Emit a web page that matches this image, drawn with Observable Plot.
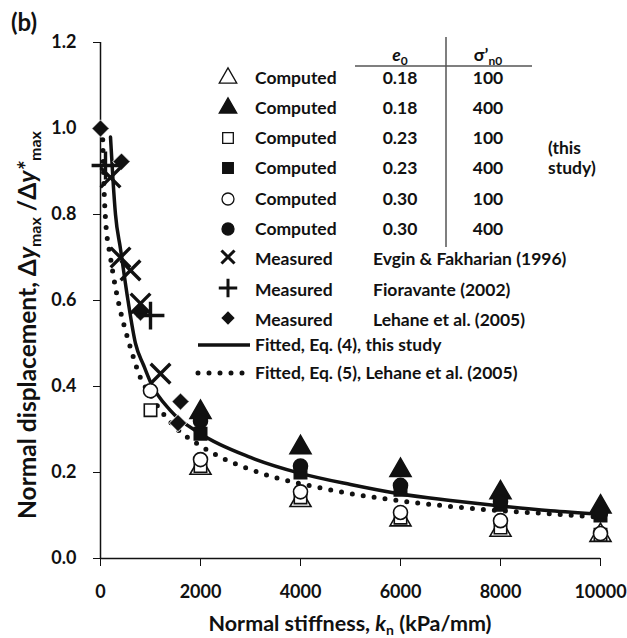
<!DOCTYPE html>
<html><head><meta charset="utf-8">
<script src="https://cdn.jsdelivr.net/npm/d3@7"></script>
<script src="https://cdn.jsdelivr.net/npm/@observablehq/plot@0.6"></script>
<style>
body{margin:0;background:#fff}
#chart svg{font-family:Lato,"Open Sans",sans-serif;font-weight:bold;overflow:visible}
</style>
</head><body><div id="chart"></div>
<script>
// ---- data ----
const knComputed = [1000, 2000, 4000, 6000, 8000, 10000];
const c018_100 = [null, 0.21, 0.135, 0.09, 0.066, 0.054];   // open triangle
const c018_400 = [null, 0.34, 0.258, 0.205, 0.153, 0.12];   // filled triangle
const c023_100 = [0.345, 0.215, 0.142, 0.095, 0.072, 0.055]; // open square
const c023_400 = [null, 0.29, 0.2, 0.16, 0.125, 0.1];        // filled square
const c030_100 = [0.39, 0.23, 0.155, 0.107, 0.088, 0.058];   // open circle
const c030_400 = [null, 0.32, 0.215, 0.17, 0.132, 0.106];    // filled circle

const evginKn = [200, 400, 600, 800, 1200];
const evginY  = [0.886, 0.70, 0.67, 0.593, 0.43];
const fioKn = [100, 1000];
const fioY  = [0.914, 0.565];
const lehaneKn = [0, 420, 800, 1550, 1600];
const lehaneY  = [1.0, 0.923, 0.572, 0.315, 0.365];

const fit4Kn = [200, 250, 300, 400, 550, 700, 860, 1000, 1400, 2000, 3000, 4000, 5000, 6000, 7000, 8000, 9000, 10000];
const fit4Y  = [0.98, 0.88, 0.80, 0.72, 0.60, 0.50, 0.45, 0.41, 0.344, 0.29, 0.235, 0.198, 0.172, 0.15, 0.135, 0.122, 0.111, 0.103];
const fit5Kn = [40, 60, 100, 200, 300, 400, 500, 600, 800, 1000, 1200, 1500, 2000, 2500, 3000, 3500, 4000, 5000, 6000, 7000, 8000, 9000, 10000];
const fit5Y  = [1.0, 0.9, 0.79, 0.70, 0.63, 0.575, 0.53, 0.49, 0.42, 0.38, 0.345, 0.305, 0.262, 0.23, 0.207, 0.188, 0.174, 0.151, 0.134, 0.121, 0.111, 0.104, 0.096];

const xTicks = [0, 2000, 4000, 6000, 8000, 10000];
const yTicks = [0, 0.2, 0.4, 0.6, 0.8, 1.0, 1.2];

const computedSeries = [
  {name: "0.18-100", e0: "0.18", s: "100", vals: c018_100, symbol: "triangle", filled: false},
  {name: "0.18-400", e0: "0.18", s: "400", vals: c018_400, symbol: "triangle", filled: true},
  {name: "0.23-100", e0: "0.23", s: "100", vals: c023_100, symbol: "square", filled: false},
  {name: "0.23-400", e0: "0.23", s: "400", vals: c023_400, symbol: "square", filled: true},
  {name: "0.30-100", e0: "0.30", s: "100", vals: c030_100, symbol: "circle", filled: false},
  {name: "0.30-400", e0: "0.30", s: "400", vals: c030_400, symbol: "circle", filled: true}
];
const pts = s => knComputed.map((k, i) => ({x: k, y: s.vals[i]})).filter(d => d.y != null);
const pairs = (xs, ys) => xs.map((x, i) => ({x, y: ys[i]}));

const ink = "#111";
const marks = [
  Plot.ruleX([0], {y1: 0, y2: 1.2, stroke: ink, strokeWidth: 1.5}),
  Plot.ruleY([0], {x1: 0, x2: 10000, stroke: ink, strokeWidth: 1.5}),
  Plot.axisY(yTicks, {tickFormat: d3.format(".1f"), tickSize: 7, tickPadding: 17, fontSize: 18, fill: ink, stroke: ink, label: null}),
  Plot.axisX(xTicks, {tickFormat: d3.format("d"), tickSize: 8, tickPadding: 19, fontSize: 18, fill: ink, stroke: ink, label: null}),
  Plot.line(pairs(fit5Kn, fit5Y), {x: "x", y: "y", stroke: ink, strokeWidth: 5, strokeDasharray: "0 11", strokeLinecap: "round", curve: "monotone-x"}),
  Plot.line(pairs(fit4Kn, fit4Y), {x: "x", y: "y", stroke: ink, strokeWidth: 3.5, curve: "monotone-x"})
];
for (const s of computedSeries) {
  marks.push(Plot.dot(pts(s), {x: "x", y: "y", symbol: () => s.symbol, r: s.symbol === "triangle" ? 7.8 : 7,
    fill: s.filled ? ink : "white", stroke: ink, strokeWidth: 1.6}));
}
marks.push(Plot.dot(pairs(lehaneKn, lehaneY), {x: "x", y: "y", symbol: () => "diamond2", r: 7.8, fill: ink, stroke: "white", strokeWidth: 1}));
marks.push(Plot.dot(pairs(evginKn, evginY), {x: "x", y: "y", symbol: () => "times", r: 9, stroke: ink, strokeWidth: 3.4}));
marks.push(Plot.dot(pairs(fioKn, fioY), {x: "x", y: "y", symbol: () => "plus", r: 9, stroke: ink, strokeWidth: 3.4}));

const plot = Plot.plot({
  width: 627, height: 638,
  marginLeft: 100, marginRight: 27, marginTop: 42, marginBottom: 80,
  x: {domain: [0, 10000]},
  y: {domain: [0, 1.2]},
  style: {background: "white", color: ink},
  marks
});
document.getElementById("chart").appendChild(plot);

// ---- annotations: titles and legend ----
const svg = d3.select(plot);
const g = svg.append("g").attr("fill", ink).attr("font-weight", "bold").attr("text-anchor", "start");

g.append("text").attr("x", 11).attr("y", 31).attr("font-size", 24).text("(b)");

// x-axis title
const xt = g.append("text").attr("x", 350).attr("y", 631).attr("text-anchor", "middle").attr("font-size", 21.5);
xt.append("tspan").text("Normal stiffness, ");
xt.append("tspan").attr("font-style", "italic").text("k");
xt.append("tspan").attr("font-size", 14).attr("dy", 4).text("n");
xt.append("tspan").attr("dy", -4).text(" (kPa/mm)");

// y-axis title
const yt = g.append("text").attr("transform", "translate(36,325) rotate(-90)").attr("text-anchor", "middle").attr("font-size", 24.5);
yt.append("tspan").text("Normal displacement, Δ");
yt.append("tspan").attr("font-style", "italic").text("y");
yt.append("tspan").attr("font-size", 16).attr("dy", 5).text("max");
yt.append("tspan").attr("dy", -5).text(" /Δ");
yt.append("tspan").attr("font-style", "italic").text("y*");
yt.append("tspan").attr("font-size", 16).attr("dy", 5).text("max");

// legend table
const fs = 17.5;
const symX = 228, labX = 255, e0X = 400, sX = 488;
const rowY = [78, 108, 138, 168, 199, 229];
const sym = {triangle: d3.symbolTriangle, square: d3.symbolSquare, circle: d3.symbolCircle,
  times: d3.symbolTimes, plus: d3.symbolPlus, diamond2: d3.symbolDiamond2};

const h1 = g.append("text").attr("x", e0X).attr("y", 55).attr("text-anchor", "middle").attr("font-size", fs).attr("dy", "0.35em");
h1.append("tspan").attr("font-style", "italic").text("e");
h1.append("tspan").attr("font-size", 12).attr("dy", 4).text("0");
const h2 = g.append("text").attr("x", sX).attr("y", 55).attr("text-anchor", "middle").attr("font-size", fs).attr("dy", "0.35em");
h2.append("tspan").text("σ’");
h2.append("tspan").attr("font-size", 12).attr("dy", 4).text("n0");
g.append("line").attr("x1", 355).attr("x2", 532).attr("y1", 66).attr("y2", 66).attr("stroke", "#555").attr("stroke-width", 1.5);
g.append("line").attr("x1", 446).attr("x2", 446).attr("y1", 37).attr("y2", 247).attr("stroke", "#555").attr("stroke-width", 1.5);

computedSeries.forEach((s, i) => {
  const y = rowY[i];
  const r = s.symbol === "triangle" ? 6.5 : 6;
  g.append("path").attr("transform", `translate(${symX},${y})`)
    .attr("d", d3.symbol(sym[s.symbol], Math.PI * r * r)())
    .attr("fill", s.filled ? ink : "white").attr("stroke", ink).attr("stroke-width", 1.3);
  g.append("text").attr("x", labX).attr("y", y).attr("dy", "0.35em").attr("font-size", fs).text("Computed");
  g.append("text").attr("x", e0X).attr("y", y).attr("dy", "0.35em").attr("font-size", fs).attr("text-anchor", "middle").text(s.e0);
  g.append("text").attr("x", sX).attr("y", y).attr("dy", "0.35em").attr("font-size", fs).attr("text-anchor", "middle").text(s.s);
});
g.append("text").attr("x", 548).attr("y", 148).attr("dy", "0.35em").attr("font-size", fs).text("(this");
g.append("text").attr("x", 548).attr("y", 168).attr("dy", "0.35em").attr("font-size", fs).text("study)");

const measured = [
  {symbol: "times", text: "Evgin & Fakharian (1996)", y: 259},
  {symbol: "plus", text: "Fioravante (2002)", y: 290},
  {symbol: "diamond2", text: "Lehane et al. (2005)", y: 320}
];
measured.forEach(m => {
  const p = g.append("path").attr("transform", `translate(${symX},${m.y - 2})`)
    .attr("d", d3.symbol(sym[m.symbol], Math.PI * 6 * 6)());
  if (m.symbol === "diamond2") p.attr("fill", ink);
  else p.attr("fill", "none").attr("stroke", ink).attr("stroke-width", 3);
  g.append("text").attr("x", labX).attr("y", m.y).attr("dy", "0.35em").attr("font-size", fs).text("Measured");
  g.append("text").attr("x", 373).attr("y", m.y).attr("dy", "0.35em").attr("font-size", fs).text(m.text);
});

g.append("line").attr("x1", 198).attr("x2", 250).attr("y1", 345).attr("y2", 345).attr("stroke", ink).attr("stroke-width", 3.5);
g.append("text").attr("x", labX).attr("y", 345).attr("dy", "0.35em").attr("font-size", fs).text("Fitted, Eq. (4), this study");
g.append("line").attr("x1", 198).attr("x2", 250).attr("y1", 373).attr("y2", 373).attr("stroke", ink).attr("stroke-width", 5)
  .attr("stroke-dasharray", "0 11").attr("stroke-linecap", "round");
g.append("text").attr("x", labX).attr("y", 373).attr("dy", "0.35em").attr("font-size", fs).text("Fitted, Eq. (5), Lehane et al. (2005)");
</script>
</body></html>
